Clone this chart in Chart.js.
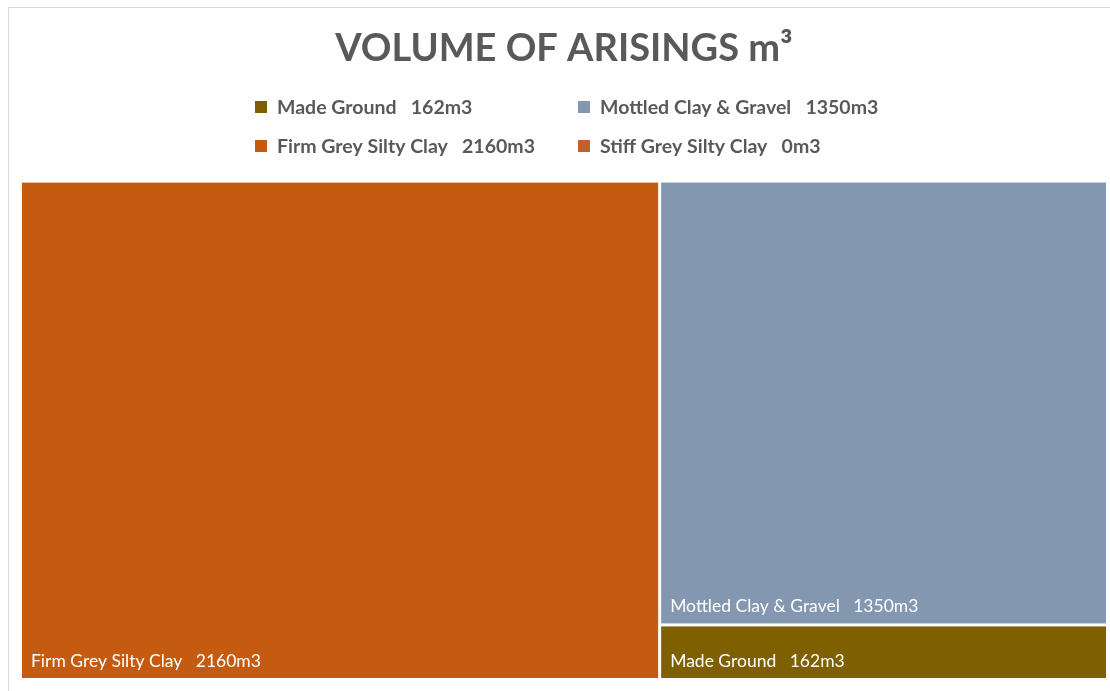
<!DOCTYPE html>
<html>
<head>
<meta charset="utf-8">
<script src="https://cdn.jsdelivr.net/npm/chart.js@4/dist/chart.umd.min.js"></script>
<style>
  html, body { margin: 0; padding: 0; background: #fff; }
  #wrap { width: 1110px; height: 691px; position: relative; }
</style>
</head>
<body>
<div id="wrap"><canvas id="chart"></canvas></div>
<script>
// data
const categories = ['Made Ground', 'Mottled Clay & Gravel', 'Firm Grey Silty Clay', 'Stiff Grey Silty Clay'];
const volumes = [162, 1350, 2160, 0];
const colors = ['#7f6000', '#8497b0', '#c55a11', '#c0622a'];
const unit = 'm3';

const total = volumes.reduce((a, b) => a + b, 0);

function labelFor(i) {
  return categories[i] + '   ' + volumes[i] + unit;
}

// simple treemap layout in data units: biggest one takes a full column,
// the others are stacked top to bottom in the remaining column
function layout() {
  const idx = categories.map((c, i) => i).filter(i => volumes[i] > 0)
    .sort((a, b) => volumes[b] - volumes[a]);
  const cells = [];
  if (!idx.length) return cells;
  const first = idx[0];
  cells.push({ i: first, x0: 0, x1: volumes[first], y0: 0, y1: 1 });
  const rest = idx.slice(1);
  const restSum = rest.reduce((s, i) => s + volumes[i], 0);
  let y = 1;
  rest.forEach(i => {
    const h = volumes[i] / restSum;
    cells.push({ i, x0: volumes[first], x1: total, y0: y - h, y1: y });
    y -= h;
  });
  return cells;
}

const treemapPlugin = {
  id: 'treemap',
  beforeDraw(chart) {
    const ctx = chart.ctx;
    ctx.save();
    ctx.fillStyle = '#fff';
    ctx.fillRect(0, 0, chart.width, chart.height);
    ctx.strokeStyle = '#d9d9d9';
    ctx.lineWidth = 1;
    ctx.strokeRect(8.5, 7.5, chart.width, chart.height);
    ctx.restore();
  },
  afterDatasetsDraw(chart) {
    const ctx = chart.ctx;
    const xs = chart.scales.x, ys = chart.scales.y;
    const gap = 1.5;
    ctx.save();
    layout().forEach(c => {
      const l = xs.getPixelForValue(c.x0) + (c.x0 > 0 ? gap : 0);
      const r = xs.getPixelForValue(c.x1) - (c.x1 < total ? gap : 0);
      const t = ys.getPixelForValue(c.y1) + (c.y1 < 1 ? gap : 0);
      const b = ys.getPixelForValue(c.y0) - (c.y0 > 0 ? gap : 0);
      ctx.fillStyle = colors[c.i];
      ctx.fillRect(l, t, r - l, b - t);
      ctx.fillStyle = '#fff';
      ctx.font = '17.5px Lato, "Open Sans", sans-serif';
      ctx.textBaseline = 'middle';
      ctx.textAlign = 'left';
      ctx.fillText(labelFor(c.i), l + 9, b - 17);
    });

    // legend, two columns
    const colX = [255, 578];
    const rowY = [107, 146];
    ctx.font = 'bold 19.5px Lato, "Open Sans", sans-serif';
    categories.forEach((cat, i) => {
      const x = colX[i % 2], y = rowY[Math.floor(i / 2)];
      ctx.fillStyle = colors[i];
      ctx.fillRect(x, y - 6, 12, 12);
      ctx.fillStyle = '#595959';
      ctx.fillText(labelFor(i), x + 22, y + 1);
    });
    ctx.restore();
  }
};

new Chart(document.getElementById('chart'), {
  type: 'scatter',
  data: { datasets: [{ data: [] }] },
  options: {
    responsive: true,
    maintainAspectRatio: false,
    animation: false,
    layout: { padding: { left: 22, right: 4, top: 0, bottom: 13 } },
    scales: {
      x: { type: 'linear', min: 0, max: total, display: false },
      y: { type: 'linear', min: 0, max: 1, display: false }
    },
    plugins: {
      legend: { display: false },
      tooltip: { enabled: false },
      title: {
        display: true,
        text: 'VOLUME OF ARISINGS m³',
        color: '#595959',
        font: { family: 'Lato, "Open Sans", sans-serif', size: 38, weight: 'bold' },
        padding: { top: 26, bottom: 111 }
      }
    }
  },
  plugins: [treemapPlugin]
});
</script>
</body>
</html>
